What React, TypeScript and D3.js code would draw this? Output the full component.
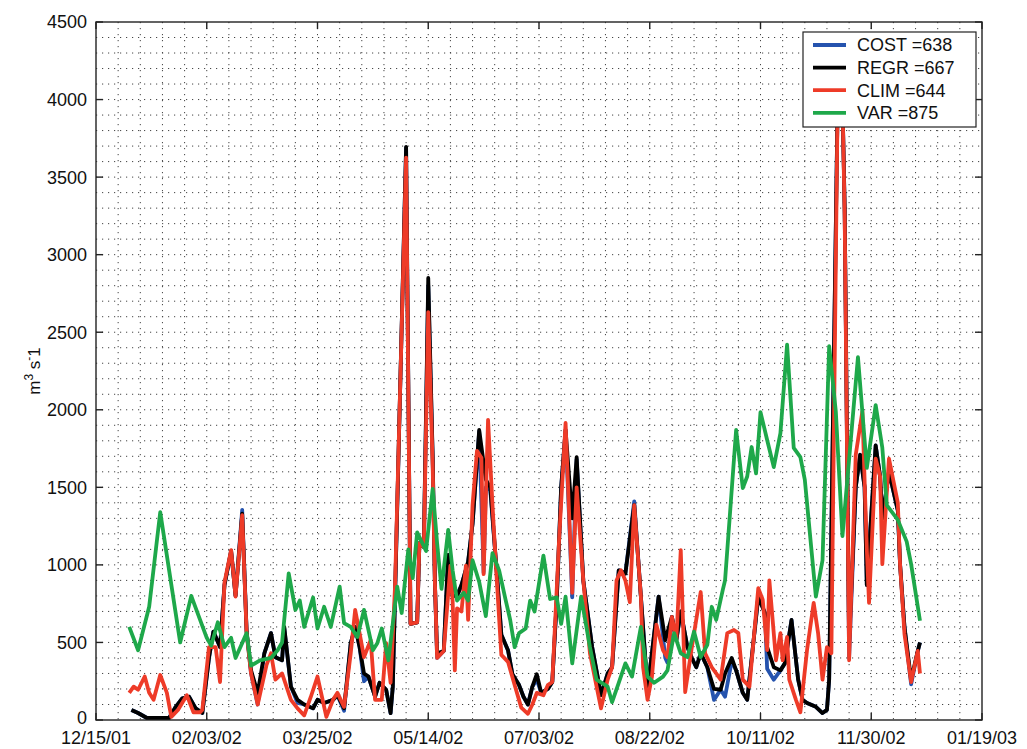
import React, { useEffect, useRef } from 'react';
import * as d3 from 'd3';

// [days since 12/15/01, discharge m^3/s]
type Pt = [number, number];

const regrData: Pt[] = [
  [16, 65], [19, 45], [23, 13], [28, 13], [33, 13], [36, 85], [39, 140], [42, 150], [45, 75], [48, 45],
  [51, 400], [53, 570], [56, 470], [58, 870], [61, 1090], [63, 800], [66, 1330], [68, 570], [70, 320], [73, 175],
  [76, 430], [79, 560], [81, 405], [84, 385], [85, 600], [88, 215], [91, 130], [94, 100], [98, 75], [100, 130],
  [103, 110], [107, 130], [109, 160], [112, 75], [115, 495], [117, 600], [119, 470], [121, 300], [123, 280], [126, 150],
  [128, 240], [131, 195], [133, 45], [134, 215], [140, 3695], [142, 620], [145, 630], [146, 1140], [148, 1115], [150, 2850],
  [152, 1700], [153, 890], [154, 430], [157, 445], [159, 1065], [161, 800], [163, 800], [165, 870], [168, 1020], [170, 1265],
  [173, 1870], [176, 1550], [178, 1500], [181, 940], [183, 550], [186, 450], [188, 295], [191, 225], [193, 150], [195, 100],
  [197, 215], [199, 295], [201, 175], [204, 200], [206, 245], [208, 770], [210, 1500], [212, 1870], [215, 1300], [217, 1695],
  [220, 900], [224, 470], [228, 160], [231, 300], [233, 340], [236, 965], [239, 945], [243, 1385], [246, 795], [249, 195],
  [254, 795], [257, 515], [260, 665], [262, 515], [264, 700], [267, 470], [269, 400], [271, 340], [273, 430], [276, 340],
  [279, 200], [282, 195], [284, 300], [287, 400], [289, 320], [292, 175], [294, 130], [299, 795], [302, 690], [303, 470],
  [306, 340], [309, 320], [311, 365], [314, 645], [317, 260], [319, 130], [321, 110], [325, 85], [328, 45], [330, 65],
  [331, 260], [335, 4150], [337, 4000], [338, 3300], [340, 500], [343, 1500], [345, 1710], [347, 1500], [348, 870], [352, 1770],
  [354, 1570], [355, 1300], [358, 1600], [362, 1350], [363, 1005], [365, 600], [368, 260], [371, 445], [372, 500],
];

const costData: Pt[] = [
  [16, 65], [19, 45], [23, 13], [28, 13], [33, 13], [36, 85], [39, 140], [42, 150], [45, 75], [48, 45],
  [51, 400], [53, 570], [56, 470], [58, 870], [61, 1090], [63, 800], [66, 1355], [68, 570], [70, 300], [73, 100],
  [76, 430], [79, 560], [81, 405], [84, 385], [85, 590], [88, 215], [91, 110], [94, 100], [98, 75], [100, 130],
  [103, 110], [107, 130], [109, 160], [112, 60], [115, 495], [117, 600], [119, 470], [121, 250], [123, 280], [126, 150],
  [128, 240], [131, 195], [133, 45], [134, 215], [140, 3690], [142, 620], [145, 630], [146, 1140], [148, 1115], [150, 2800],
  [152, 1680], [153, 890], [154, 400], [157, 445], [159, 1065], [161, 800], [163, 800], [165, 870], [168, 1020], [170, 1265],
  [173, 1860], [175, 950], [176, 1500], [178, 1480], [181, 940], [183, 550], [186, 450], [188, 295], [191, 225], [193, 150],
  [195, 100], [197, 215], [199, 260], [201, 175], [204, 200], [206, 245], [208, 770], [210, 1500], [212, 1870], [215, 790],
  [217, 1680], [220, 900], [224, 470], [228, 160], [231, 300], [233, 340], [236, 965], [239, 945], [243, 1410], [246, 795],
  [249, 195], [254, 795], [257, 400], [258, 370], [260, 665], [262, 515], [264, 700], [267, 470], [269, 400], [271, 340],
  [273, 430], [276, 340], [279, 130], [282, 195], [284, 150], [287, 380], [289, 320], [292, 175], [294, 130], [299, 795],
  [302, 690], [303, 330], [306, 260], [309, 320], [311, 365], [314, 645], [317, 260], [319, 130], [321, 110], [325, 85],
  [328, 45], [330, 65], [331, 260], [335, 4150], [337, 4000], [338, 3300], [340, 400], [343, 1500], [345, 1710], [347, 1500],
  [348, 870], [352, 1770], [354, 1570], [355, 1300], [358, 1600], [362, 1350], [363, 1005], [365, 600], [368, 230], [371, 445],
  [372, 500],
];

const climData: Pt[] = [
  [15, 175], [17, 215], [19, 195], [22, 280], [24, 175], [26, 130], [29, 290], [32, 175], [34, 20], [37, 65],
  [41, 160], [44, 50], [47, 50], [48, 65], [51, 470], [54, 470], [56, 245], [58, 885], [61, 1095], [63, 795],
  [66, 1320], [68, 560], [70, 300], [73, 100], [77, 355], [79, 430], [81, 260], [84, 300], [88, 130], [91, 75],
  [94, 30], [97, 150], [100, 280], [102, 150], [104, 20], [107, 130], [109, 175], [112, 85], [115, 430], [117, 710],
  [119, 560], [121, 405], [124, 515], [126, 130], [129, 130], [131, 495], [133, 240], [135, 860], [140, 3625], [142, 620],
  [145, 630], [146, 1140], [148, 1115], [150, 2630], [152, 1640], [153, 890], [154, 400], [157, 445], [160, 995], [161, 770],
  [162, 320], [163, 720], [165, 700], [167, 995], [168, 645], [170, 1385], [172, 1735], [174, 1690], [175, 940], [177, 1935],
  [179, 1385], [181, 890], [183, 420], [186, 375], [189, 225], [192, 80], [195, 40], [197, 100], [199, 175], [202, 160],
  [204, 225], [206, 245], [209, 1140], [212, 1915], [215, 820], [217, 1500], [220, 900], [223, 430], [226, 215], [228, 75],
  [231, 260], [233, 340], [235, 900], [237, 965], [239, 900], [241, 760], [243, 1385], [246, 795], [247, 340], [249, 130],
  [251, 280], [253, 615], [256, 450], [258, 405], [260, 665], [262, 515], [264, 1095], [266, 180], [269, 470], [273, 825],
  [275, 430], [278, 340], [280, 300], [282, 260], [285, 560], [288, 580], [290, 560], [292, 260], [295, 215], [299, 850],
  [301, 775], [303, 450], [304, 900], [307, 385], [309, 560], [310, 385], [312, 535], [313, 260], [316, 130], [318, 50],
  [321, 450], [324, 755], [326, 560], [328, 260], [330, 470], [332, 430], [335, 4200], [337, 4000], [338, 3255], [340, 385],
  [343, 1710], [346, 1990], [348, 1100], [349, 755], [352, 1685], [354, 1570], [355, 1005], [358, 1685], [362, 1400], [363, 1005],
  [365, 555], [368, 245], [371, 445], [372, 300],
];

const varData: Pt[] = [
  [15, 600], [19, 450], [24, 730], [29, 1340], [38, 500], [43, 800], [50, 530], [52, 480], [55, 630], [58, 470],
  [61, 530], [63, 400], [68, 560], [70, 350], [74, 385], [79, 400], [82, 450], [84, 500], [87, 945], [90, 710],
  [92, 770], [94, 600], [98, 790], [100, 590], [103, 730], [106, 600], [110, 860], [112, 625], [115, 600], [118, 535],
  [121, 710], [125, 450], [127, 495], [129, 590], [132, 385], [136, 860], [138, 690], [141, 1100], [143, 915], [145, 1210],
  [149, 1090], [152, 1490], [154, 1140], [156, 845], [159, 1225], [161, 965], [163, 770], [166, 820], [168, 770], [170, 1030],
  [173, 890], [176, 670], [179, 1075], [182, 965], [185, 770], [187, 645], [189, 470], [191, 560], [194, 590], [196, 770],
  [198, 700], [202, 1060], [205, 780], [208, 790], [210, 620], [212, 795], [215, 365], [219, 795], [223, 470], [226, 260],
  [231, 215], [233, 115], [236, 240], [239, 365], [242, 280], [246, 600], [249, 280], [252, 240], [256, 280], [258, 320],
  [261, 560], [264, 430], [267, 405], [270, 570], [273, 405], [276, 485], [278, 730], [280, 645], [283, 840], [284, 900],
  [289, 1870], [292, 1495], [294, 1570], [296, 1760], [298, 1590], [300, 1985], [303, 1805], [306, 1630], [309, 1850], [312, 2420],
  [315, 1755], [318, 1695], [320, 1550], [325, 795], [328, 1030], [331, 2410], [334, 1990], [337, 1185], [344, 2340], [348, 1625],
  [352, 2030], [355, 1755], [357, 1385], [362, 1290], [366, 1150], [368, 1005], [372, 640],
];

const seriesNames = ['COST', 'REGR', 'CLIM', 'VAR'];
const seriesScores = [638, 667, 644, 875];
const seriesColors = ['#2553ae', '#000000', '#ee3b28', '#1ea84a'];
const yTicks = [0, 500, 1000, 1500, 2000, 2500, 3000, 3500, 4000, 4500];
const xTickDays = [0, 50, 100, 150, 200, 250, 300, 350, 400];

const startDate = new Date(Date.UTC(2001, 11, 15));
const toDate = (day: number) => d3.utcDay.offset(startDate, day);

const App: React.FC = () => {
  const ref = useRef<SVGSVGElement | null>(null);

  useEffect(() => {
    if (!ref.current) return;
    const svg = d3.select(ref.current);
    svg.selectAll('*').remove();

    const width = 1027;
    const height = 749;
    const margin = { top: 22, right: 45, bottom: 29, left: 96 };
    const innerW = width - margin.left - margin.right;
    const innerH = height - margin.top - margin.bottom;
    const font = '"Liberation Sans", Arial, Helvetica, sans-serif';

    const x = d3.scaleUtc().domain([toDate(0), toDate(400)]).range([0, innerW]);
    const y = d3.scaleLinear().domain([0, 4500]).range([innerH, 0]);

    svg.append('rect').attr('width', width).attr('height', height).attr('fill', '#fff');

    const g = svg.append('g').attr('transform', `translate(${margin.left},${margin.top})`);

    // dotted grid
    const grid = g.append('g').attr('stroke', '#444').attr('stroke-width', 1).attr('stroke-dasharray', '1.2 4.8');
    for (let v = 100; v < 4500; v += 100) {
      grid.append('line').attr('x1', 0).attr('x2', innerW).attr('y1', y(v)).attr('y2', y(v));
    }
    for (let d = 10; d < 400; d += 10) {
      grid.append('line').attr('x1', x(toDate(d))).attr('x2', x(toDate(d))).attr('y1', 0).attr('y2', innerH);
    }

    // lines
    const line = d3.line<Pt>()
      .x((d) => x(toDate(d[0])))
      .y((d) => y(d[1]));
    const allSeries = [costData, regrData, climData, varData];
    allSeries.forEach((data, i) => {
      g.append('path')
        .datum(data)
        .attr('d', line)
        .attr('fill', 'none')
        .attr('stroke', seriesColors[i])
        .attr('stroke-width', 3.8)
        .attr('stroke-linejoin', 'round');
    });

    // frame + inside ticks
    g.append('rect').attr('width', innerW).attr('height', innerH)
      .attr('fill', 'none').attr('stroke', '#222').attr('stroke-width', 1.4);
    const tl = 7;
    yTicks.forEach((v) => {
      g.append('line').attr('x1', 0).attr('x2', tl).attr('y1', y(v)).attr('y2', y(v)).attr('stroke', '#222').attr('stroke-width', 1.4);
      g.append('line').attr('x1', innerW - tl).attr('x2', innerW).attr('y1', y(v)).attr('y2', y(v)).attr('stroke', '#222').attr('stroke-width', 1.4);
      g.append('text').attr('x', -9).attr('y', y(v) - (v === 0 ? 2 : 0)).attr('dy', '0.36em')
        .attr('text-anchor', 'end').attr('font-family', font).attr('font-size', 18).attr('fill', '#111')
        .text(String(v));
    });
    const fmt = d3.utcFormat('%m/%d/%y');
    xTickDays.forEach((d) => {
      const px = x(toDate(d));
      g.append('line').attr('x1', px).attr('x2', px).attr('y1', innerH).attr('y2', innerH - tl).attr('stroke', '#222').attr('stroke-width', 1.4);
      g.append('line').attr('x1', px).attr('x2', px).attr('y1', 0).attr('y2', tl).attr('stroke', '#222').attr('stroke-width', 1.4);
      g.append('text').attr('x', px).attr('y', innerH + 24)
        .attr('text-anchor', 'middle').attr('font-family', font).attr('font-size', 18).attr('fill', '#111')
        .text(fmt(toDate(d)));
    });

    // y label m^3 s^-1
    const yl = svg.append('text')
      .attr('transform', `translate(40,${margin.top + innerH / 2}) rotate(-90)`)
      .attr('text-anchor', 'middle').attr('font-family', font).attr('font-size', 17).attr('fill', '#111');
    yl.append('tspan').text('m');
    yl.append('tspan').attr('dy', -7).attr('font-size', 12).text('3');
    yl.append('tspan').attr('dy', 7).text(' s');
    yl.append('tspan').attr('dy', -7).attr('font-size', 12).text('-');
    yl.append('tspan').attr('dy', 7).text('1');

    // legend
    const lg = svg.append('g').attr('transform', 'translate(803,32)');
    lg.append('rect').attr('width', 173).attr('height', 95).attr('fill', '#fff').attr('stroke', '#222').attr('stroke-width', 1.2);
    seriesNames.forEach((name, i) => {
      const cy = 13 + i * 22.6;
      lg.append('line').attr('x1', 10).attr('x2', 43).attr('y1', cy).attr('y2', cy)
        .attr('stroke', seriesColors[i]).attr('stroke-width', 3.8);
      lg.append('text').attr('x', 54).attr('y', cy).attr('dy', '0.36em')
        .attr('font-family', font).attr('font-size', 18).attr('fill', '#111')
        .text(`${name} =${seriesScores[i]}`);
    });
  }, []);

  return (
    <svg ref={ref} width={1027} height={749} style={{ position: 'absolute', left: 0, top: 0 }} />
  );
};

export default App;
